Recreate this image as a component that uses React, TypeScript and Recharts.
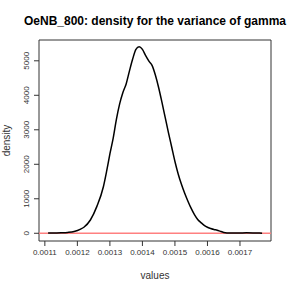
import { LineChart, Line, XAxis, YAxis, ReferenceLine, ReferenceArea } from "recharts";

const xValues = [
  0.00111, 0.00113, 0.00115, 0.00117, 0.00119, 0.00121, 0.00122, 0.00124, 0.00126, 0.00128,
  0.00129, 0.0013, 0.00131, 0.00132, 0.00133, 0.00134, 0.00135, 0.00136, 0.00137, 0.00138,
  0.00139, 0.0014, 0.00141, 0.00142, 0.00143, 0.00144, 0.00145, 0.00146, 0.00147, 0.00148,
  0.00149, 0.0015, 0.00151, 0.00152, 0.00153, 0.00154, 0.00155, 0.00156, 0.00157, 0.00158,
  0.00159, 0.0016, 0.00161, 0.00162, 0.00163, 0.00164, 0.00165, 0.00166, 0.00168, 0.0017,
  0.00172, 0.00174, 0.00176, 0.001768,
];
const densityValues = [
  5, 10, 15, 25, 50, 120, 175, 385, 780, 1350,
  1800, 2300, 2750, 3300, 3750, 4080, 4330, 4700, 5050, 5330,
  5410, 5330, 5150, 4990, 4860, 4580, 4220, 3800, 3360, 2920,
  2500, 2080, 1720, 1420, 1160, 930, 720, 540, 400, 310,
  230, 175, 140, 110, 90, 55, 25, 10, 5, 8,
  12, 10, 5, 2,
];
const xTicks = [0.0011, 0.0012, 0.0013, 0.0014, 0.0015, 0.0016, 0.0017];
const yTicks = [0, 1000, 2000, 3000, 4000, 5000];
const xDomain = [0.001082, 0.0017954];
const yDomain = [-224, 5603];

const data = xValues.map((x, i) => ({ x, density: densityValues[i] }));

const font = "'Liberation Sans', Arial, Helvetica, sans-serif";

function YTick(props: any) {
  const { x, y, payload } = props;
  return (
    <text
      x={x}
      y={y}
      transform={`rotate(-90, ${x}, ${y})`}
      textAnchor="middle"
      fontSize={8}
      fontFamily={font}
      fill="#333"
    >
      {payload.value}
    </text>
  );
}

function YLabel(props: any) {
  const { viewBox } = props;
  const cx = viewBox.x + 10;
  const cy = viewBox.y + viewBox.height / 2;
  return (
    <text
      x={cx}
      y={cy}
      transform={`rotate(-90, ${cx}, ${cy})`}
      textAnchor="middle"
      fontSize={10}
      fontFamily={font}
      fill="#333"
    >
      density
    </text>
  );
}

export default function App() {
  return (
    <div style={{ position: "absolute", left: 0, top: 0, background: "#fff" }}>
      <LineChart
        width={291}
        height={291}
        data={data}
        margin={{ top: 40, right: 20, left: 0, bottom: 0 }}
      >
        <text
          x={155}
          y={25}
          textAnchor="middle"
          fontSize={12}
          fontWeight="bold"
          fontFamily={font}
          fill="#000"
        >
          OeNB_800: density for the variance of gamma
        </text>
        <XAxis
          dataKey="x"
          type="number"
          domain={xDomain}
          ticks={xTicks}
          allowDataOverflow
          height={50}
          tickSize={5}
          tickMargin={3}
          axisLine={false}
          tickLine={{ stroke: "#333" }}
          tick={{ fontSize: 8, fill: "#333", fontFamily: font }}
          tickFormatter={(v: number) => v.toFixed(4)}
          label={{
            value: "values",
            position: "insideBottom",
            offset: 12,
            fontSize: 10,
            fill: "#333",
            fontFamily: font,
          }}
        />
        <YAxis
          type="number"
          domain={yDomain}
          ticks={yTicks}
          allowDataOverflow
          width={39}
          tickSize={5}
          tickMargin={5}
          axisLine={false}
          tickLine={{ stroke: "#333" }}
          tick={<YTick />}
          label={<YLabel />}
        />
        <ReferenceArea
          x1={xDomain[0]}
          x2={xDomain[1]}
          y1={yDomain[0]}
          y2={yDomain[1]}
          fill="none"
          stroke="#333"
          strokeWidth={1}
          ifOverflow="visible"
        />
        <ReferenceLine y={0} stroke="#ff8080" strokeWidth={1.5} />
        <Line
          type="monotone"
          dataKey="density"
          stroke="#000"
          strokeWidth={1.5}
          dot={false}
          isAnimationActive={false}
        />
      </LineChart>
    </div>
  );
}
